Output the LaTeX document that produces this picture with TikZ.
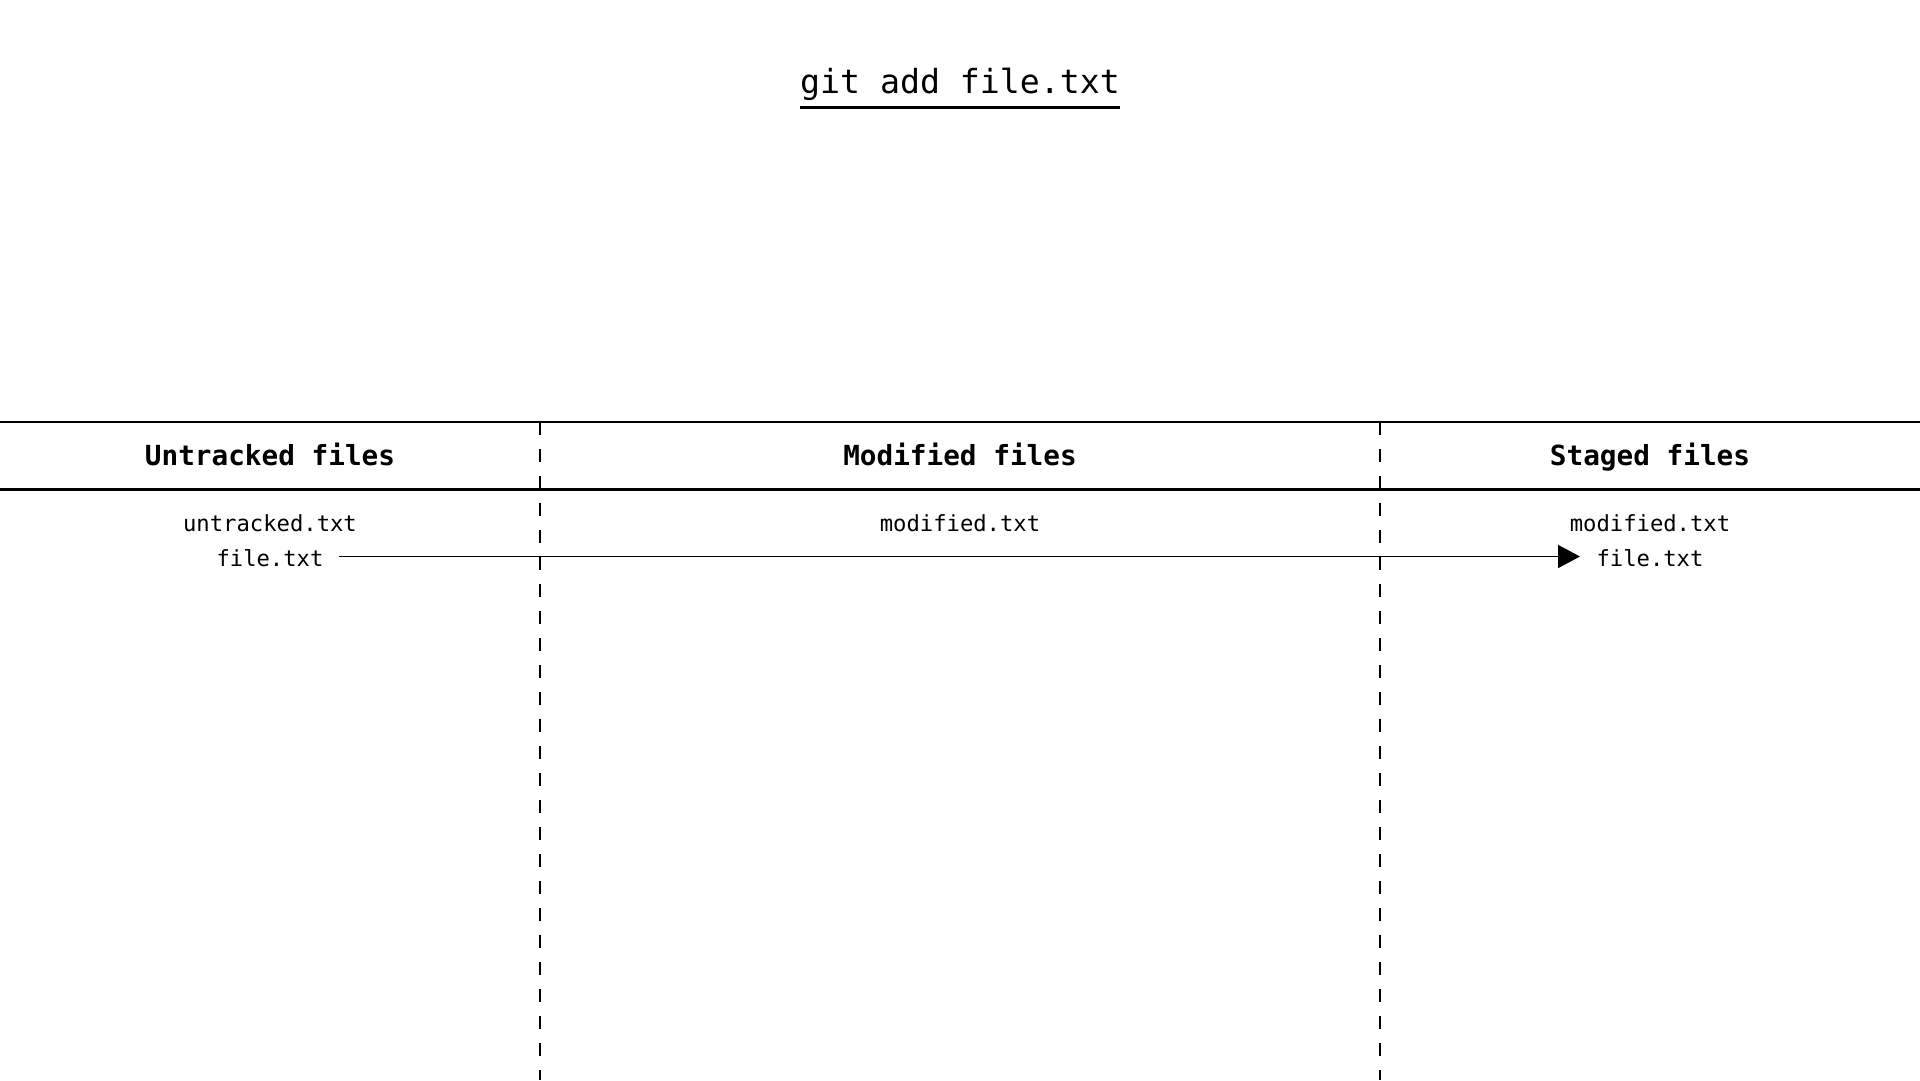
\documentclass[tikz,border=0pt]{standalone}
\usepackage{fontspec}
\setmonofont{DejaVu Sans Mono}
\usetikzlibrary{arrows.meta}
\begin{document}
\begin{tikzpicture}[x=1pt,y=-1pt,
  titletext/.style={font=\ttfamily\fontsize{33.2}{40}\selectfont, anchor=base, inner sep=0pt},
  headtext/.style={font=\ttfamily\bfseries\fontsize{27.7}{33}\selectfont, anchor=base, inner sep=0pt},
  itemtext/.style={font=\ttfamily\fontsize{22.2}{27}\selectfont, anchor=base, inner sep=0pt},
  rule/.style={line width=2.6pt},
  lanesep/.style={line width=2.5pt, dash pattern=on 12.7pt off 14.3pt},
  flow/.style={line width=1.7pt, -{Triangle[length=22pt,width=23pt]}}
]
\useasboundingbox (0,0) rectangle (1920,1080);
\fill[white] (0,0) rectangle (1920,1080);

% title
\node[titletext] (title) at (960,93) {git add file.txt};
\coordinate (ulL) at (800,107.5);
\coordinate (ulR) at (1120,107.5);
\draw[rule] (ulL) -- (ulR);

% header rules
\coordinate (topL) at (0,422);
\coordinate (topR) at (1920,422);
\coordinate (botL) at (0,489.3);
\coordinate (botR) at (1920,489.3);
\draw[rule] (topL) -- (topR);
\draw[rule] (botL) -- (botR);

% lane separators
\coordinate (sep1t) at (540,422);
\coordinate (sep1b) at (540,1080);
\coordinate (sep2t) at (1380,422);
\coordinate (sep2b) at (1380,1080);
\draw[lanesep] (sep1t) -- (sep1b);
\draw[lanesep] (sep2t) -- (sep2b);

% headers
\node[headtext] (hU) at (270,465) {Untracked files};
\node[headtext] (hM) at (960,465) {Modified files};
\node[headtext] (hS) at (1650,465) {Staged files};

% items
\node[itemtext] (uTxt) at (270,531.7) {untracked.txt};
\node[itemtext] (uFile) at (270,566.7) {file.txt};
\node[itemtext] (mTxt) at (960,531.7) {modified.txt};
\node[itemtext] (sTxt) at (1650,531.7) {modified.txt};
\node[itemtext] (sFile) at (1650,566.7) {file.txt};

% arrow
\coordinate (arrS) at (339,556.5);
\coordinate (arrE) at (1580,556.5);
\draw[flow] (arrS) -- (arrE);
\end{tikzpicture}
\end{document}
